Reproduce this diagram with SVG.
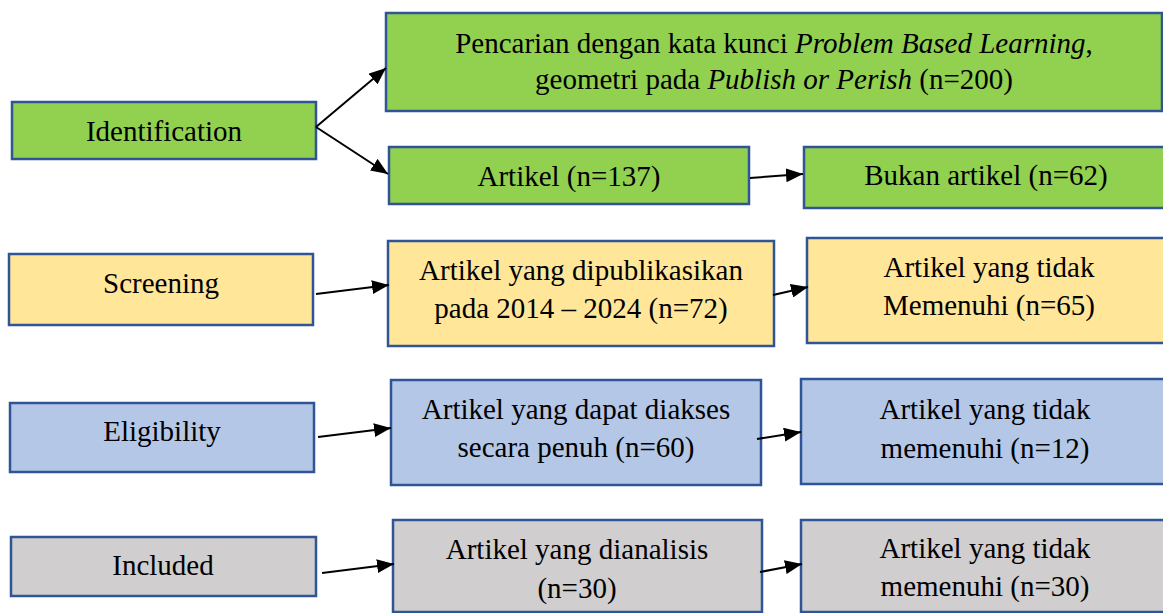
<svg xmlns="http://www.w3.org/2000/svg" width="1163" height="613" viewBox="0 0 1163 613">
<style>
  .box { stroke: #2F5597; stroke-width: 2.5; }
  .g { fill: #92D050; }
  .y { fill: #FFE699; }
  .b { fill: #B4C7E7; }
  .s { fill: #D0CECE; }
  text { font-family: "Liberation Serif", "Times New Roman", serif; font-size: 29px; fill: #000; text-anchor: middle; }
  .it { font-style: italic; }
  .conn line { stroke: #000; stroke-width: 2; marker-end: url(#arr); }
</style>
<defs>
  <marker id="arr" markerUnits="userSpaceOnUse" markerWidth="18" markerHeight="14" refX="17" refY="7" orient="auto">
    <path d="M0,0 L17,7 L0,14 z" fill="#000"/>
  </marker>
</defs>
<rect width="1163" height="613" fill="#fff"/>

<g id="identification"><rect class="box g" x="12" y="102" width="304" height="57"/><text x="164" y="141">Identification</text></g>
<g id="pencarian"><rect class="box g" x="386" y="13" width="776" height="98"/>
  <text x="774" y="53">Pencarian dengan kata kunci <tspan class="it">Problem Based Learning</tspan>,</text>
  <text x="774" y="89">geometri pada <tspan class="it">Publish or Perish</tspan> (n=200)</text></g>
<g id="artikel137"><rect class="box g" x="389" y="147" width="360" height="57"/><text x="569" y="186">Artikel (n=137)</text></g>
<g id="bukan"><rect class="box g" x="804" y="147" width="366" height="61"/><text x="986" y="185">Bukan artikel (n=62)</text></g>

<g id="screening"><rect class="box y" x="9" y="254" width="304" height="71"/><text x="161" y="293">Screening</text></g>
<g id="dipublikasikan"><rect class="box y" x="388" y="241" width="386" height="105"/>
  <text x="581" y="280">Artikel yang dipublikasikan</text><text x="581" y="318">pada 2014 – 2024 (n=72)</text></g>
<g id="tidak65"><rect class="box y" x="807" y="238" width="364" height="105"/>
  <text x="989" y="277">Artikel yang tidak</text><text x="989" y="315">Memenuhi (n=65)</text></g>

<g id="eligibility"><rect class="box b" x="10" y="403" width="304" height="69"/><text x="162" y="441">Eligibility</text></g>
<g id="diakses"><rect class="box b" x="391" y="380" width="370" height="105"/>
  <text x="576" y="419">Artikel yang dapat diakses</text><text x="576" y="457">secara penuh (n=60)</text></g>
<g id="tidak12"><rect class="box b" x="801" y="379" width="368" height="105"/>
  <text x="985" y="419">Artikel yang tidak</text><text x="985" y="458">memenuhi (n=12)</text></g>

<g id="included"><rect class="box s" x="11" y="537" width="305" height="59"/><text x="163" y="575">Included</text></g>
<g id="dianalisis"><rect class="box s" x="393" y="520" width="369" height="92"/>
  <text x="577" y="559">Artikel yang dianalisis</text><text x="577" y="598">(n=30)</text></g>
<g id="tidak30"><rect class="box s" x="801" y="520" width="368" height="92"/>
  <text x="985" y="558">Artikel yang tidak</text><text x="985" y="596">memenuhi (n=30)</text></g>

<g class="conn" id="connectors">
  <line x1="316" y1="127" x2="386" y2="68"/>
  <line x1="316" y1="127" x2="388" y2="174"/>
  <line x1="750" y1="178" x2="803" y2="174"/>
  <line x1="316" y1="294" x2="389" y2="285"/>
  <line x1="773" y1="295" x2="808" y2="287"/>
  <line x1="318" y1="437" x2="391" y2="428"/>
  <line x1="757" y1="439" x2="801" y2="432"/>
  <line x1="322" y1="573" x2="394" y2="564"/>
  <line x1="760" y1="572" x2="802" y2="564"/>
</g>
</svg>
